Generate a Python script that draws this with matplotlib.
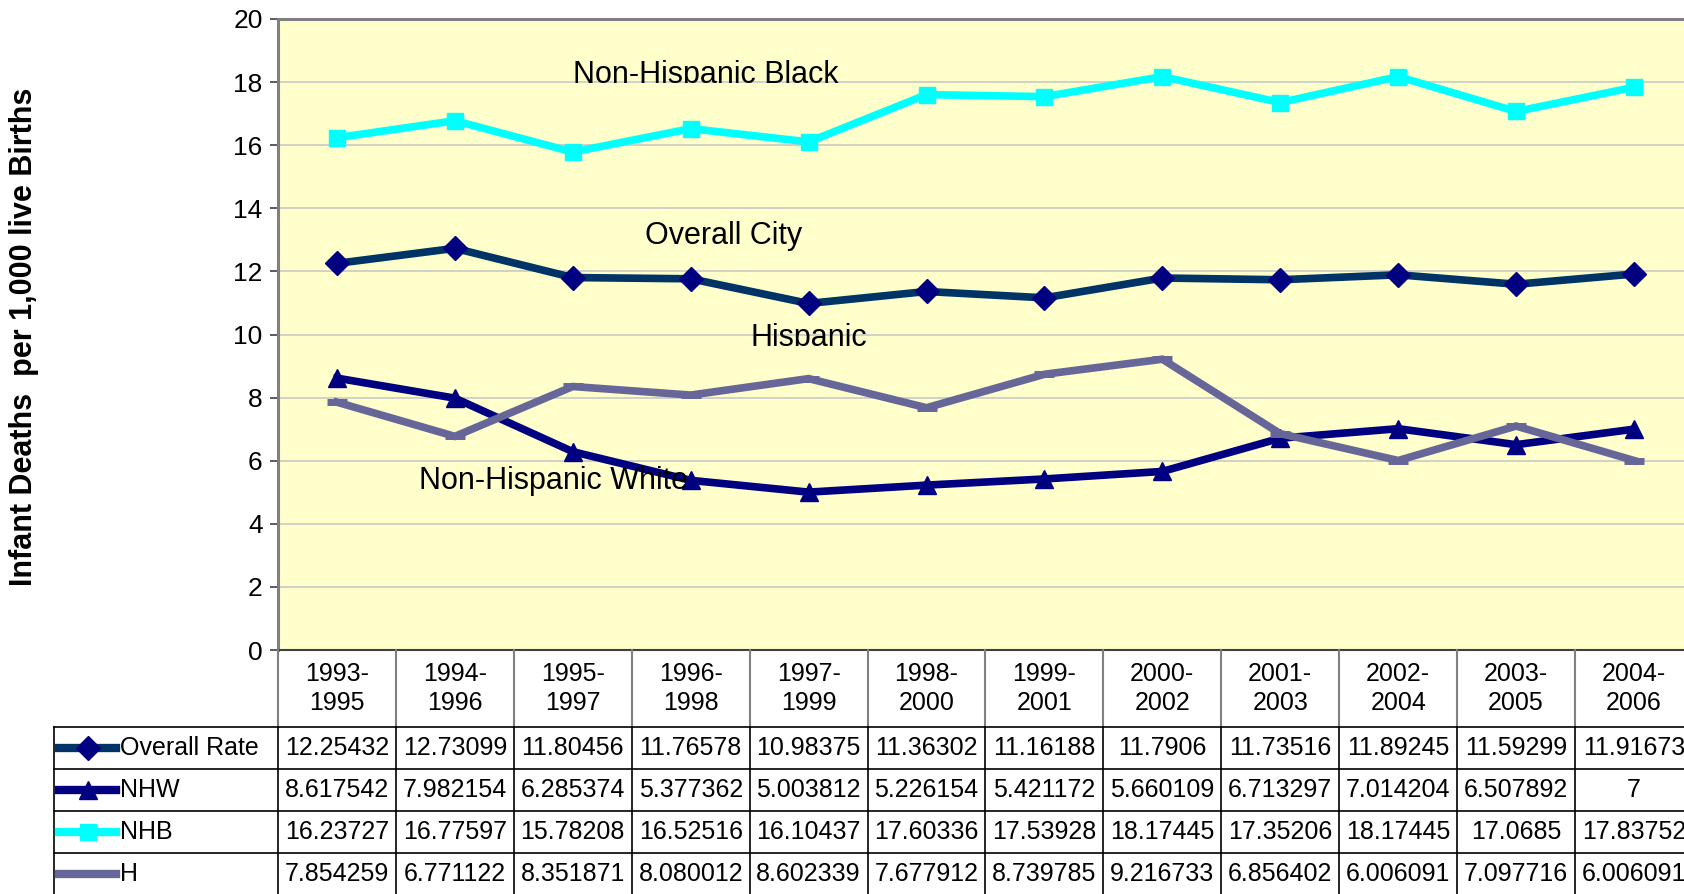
import matplotlib
matplotlib.use("Agg")
import matplotlib.pyplot as plt
from matplotlib.transforms import Bbox, TransformedBbox

# ---------------- data ----------------
categories = ['1993-\n1995', '1994-\n1996', '1995-\n1997', '1996-\n1998', '1997-\n1999',
              '1998-\n2000', '1999-\n2001', '2000-\n2002', '2001-\n2003', '2002-\n2004',
              '2003-\n2005', '2004-\n2006']
overall = [12.25432, 12.73099, 11.80456, 11.76578, 10.98375, 11.36302, 11.16188,
           11.7906, 11.73516, 11.89245, 11.59299, 11.91673]
nhw = [8.617542, 7.982154, 6.285374, 5.377362, 5.003812, 5.226154, 5.421172,
       5.660109, 6.713297, 7.014204, 6.507892, 7]
nhb = [16.23727, 16.77597, 15.78208, 16.52516, 16.10437, 17.60336, 17.53928,
       18.17445, 17.35206, 18.17445, 17.0685, 17.83752]
h = [7.854259, 6.771122, 8.351871, 8.080012, 8.602339, 7.677912, 8.739785,
     9.216733, 6.856402, 6.006091, 7.097716, 6.006091]
series_names = ['Overall Rate', 'NHW', 'NHB', 'H']
y_ticks = list(range(0, 21, 2))
y_label = 'Infant Deaths  per 1,000 live Births'

# ---------------- style ----------------
plt.rcParams['font.family'] = ['Liberation Sans', 'DejaVu Sans']
W, H = 1684, 894
fig = plt.figure(figsize=(W / 100, H / 100), dpi=100)

left_px, right_px, top_px, bottom_px = 278, 1693, 19, 650
ax = fig.add_axes([left_px / W, (H - bottom_px) / H,
                   (right_px - left_px) / W, (bottom_px - top_px) / H])
ax.set_facecolor('#FFFFCC')
n = len(categories)
xs = list(range(n))
ax.set_xlim(-0.5, n - 0.5)
ax.set_ylim(0, 20)
ax.set_yticks(y_ticks)
ax.set_yticklabels([str(t) for t in y_ticks], fontsize=19)
ax.set_xticks([])
ax.tick_params(axis='y', length=6, width=1.2, color='#404040', pad=5)
ax.yaxis.grid(True, color='#C8C8C8', linewidth=1.2)
ax.set_axisbelow(True)
ax.spines['right'].set_visible(False)
ax.spines['left'].set_color('#808080')
ax.spines['left'].set_linewidth(2.2)
ax.spines['top'].set_color('#808080')
ax.spines['top'].set_linewidth(2.2)
ax.spines['bottom'].set_color('#404040')
ax.spines['bottom'].set_linewidth(1.5)

styles = [
    dict(color='#003366', marker='D', markersize=12, mfc='#000080', mec='#000080'),
    dict(color='#000080', marker='^', markersize=13, mfc='#000080', mec='#000080'),
    dict(color='#00FFFF', marker='s', markersize=11, mfc='#00FFFF', mec='#00FFFF'),
    dict(color='#666699', marker='_', markersize=14, mfc='#666699', mec='#666699',
         markeredgewidth=5),
]
all_series = [overall, nhw, nhb, h]
for vals, st in zip(all_series, styles):
    ax.plot(xs, vals, linewidth=5.5, solid_joinstyle='miter', clip_on=False, zorder=3, **st)

# annotations
def label(text, x, y, clip_y=None):
    t = ax.text(x, y, text, fontsize=22, ha='center', va='baseline', zorder=5)
    if clip_y is not None:
        t.set_clip_box(TransformedBbox(Bbox([[-1, clip_y], [n, 25]]), ax.transData))
        t.set_clip_on(True)
    return t

label('Non-Hispanic Black', 3.13, 17.97, clip_y=17.97)
label('Overall City', 3.28, 12.87)
label('Hispanic', 4.0, 9.63, clip_y=9.63)
label('Non-Hispanic White', 1.84, 5.10)

fig.text(24 / W, (H - 337) / H, y_label, rotation=90, fontsize=22, fontweight='bold',
         ha='center', va='center')

# ---------------- data table ----------------
header_h = 77 / 42
row_h = 1.0
tab_bottom_px = 650 + 77 + 4 * 42
tax = fig.add_axes([left_px / W, (H - tab_bottom_px) / H,
                    (right_px - left_px) / W, (tab_bottom_px - 650) / H])
tax.set_xlim(-0.5, n - 0.5)
total_h = header_h + 4 * row_h
tax.set_ylim(-total_h, 0)
tax.axis('off')

px_per_cat = (right_px - left_px) / n
def px2x(px):
    return -0.5 + (px - left_px) / px_per_cat

leg_left = px2x(54)
# header
for i, c in enumerate(categories):
    tax.text(i, -header_h / 2, c, ha='center', va='center', fontsize=18, linespacing=1.25)
for i in range(n + 1):
    tax.plot([i - 0.5, i - 0.5], [0, -header_h], color='#808080', linewidth=1.5,
             clip_on=False)
# rows
for r in range(5):
    y = -header_h - r * row_h
    tax.plot([leg_left, n - 0.5], [y, y], color='#000000', linewidth=1.2, clip_on=False)
for i in range(n + 1):
    tax.plot([i - 0.5, i - 0.5], [-header_h, -total_h], color='#000000', linewidth=1.2,
             clip_on=False)
tax.plot([leg_left, leg_left], [-header_h, -total_h], color='#000000', linewidth=1.2,
         clip_on=False)

sw0, sw1 = px2x(59), px2x(116)
for r, (name, vals, st) in enumerate(zip(series_names, all_series, styles)):
    yc = -header_h - (r + 0.5) * row_h
    tax.plot([sw0, (sw0 + sw1) / 2, sw1], [yc, yc, yc], linewidth=6, clip_on=False,
             markevery=[1], **st)
    tax.text(px2x(120), yc, name, ha='left', va='center', fontsize=18)
    for i, v in enumerate(vals):
        tax.text(i, yc, '{:.7g}'.format(v), ha='center', va='center', fontsize=18)

fig.savefig('out.png', dpi=100)
